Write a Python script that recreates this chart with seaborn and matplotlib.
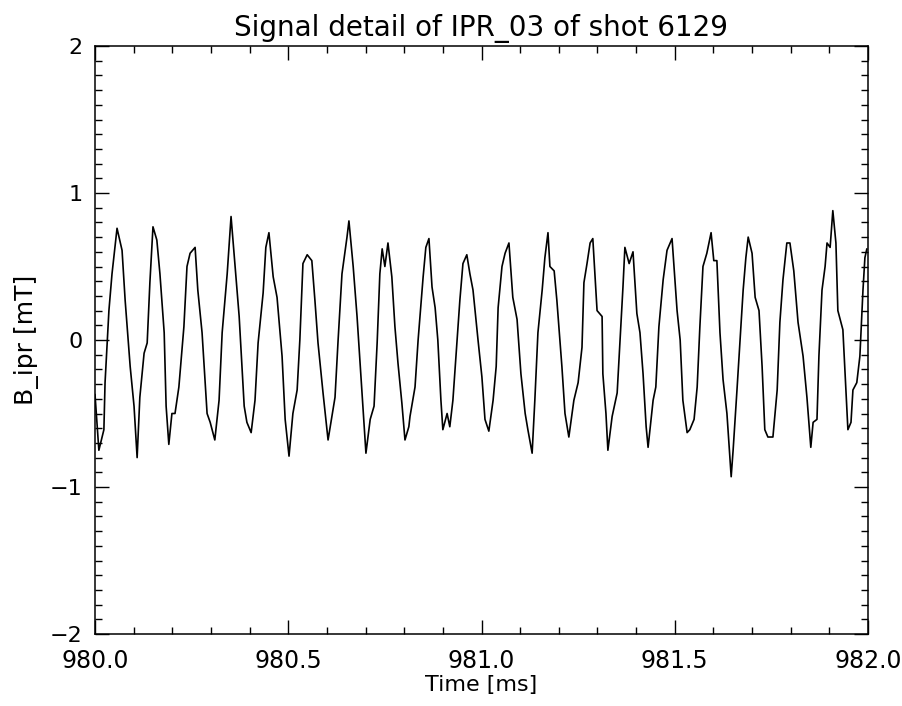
import numpy as np
import pandas as pd
import matplotlib
matplotlib.use("Agg")
import matplotlib.pyplot as plt
from matplotlib.ticker import MultipleLocator, FormatStrFormatter, FuncFormatter
import seaborn as sns

# ---- data (time offset from 980 ms, signal in mT) ----
t0 = 980.0
time_offset = [
    0.000, 0.010, 0.023, 0.026, 0.036, 0.044, 0.057, 0.070, 0.078, 0.091,
    0.101, 0.109, 0.116, 0.127, 0.135, 0.142, 0.150, 0.160, 0.168, 0.179,
    0.184, 0.191, 0.199, 0.207, 0.217, 0.230, 0.238, 0.246, 0.259, 0.266,
    0.277, 0.290, 0.298, 0.310, 0.321, 0.329, 0.342, 0.352, 0.362, 0.373,
    0.386, 0.393, 0.404, 0.414, 0.422, 0.435, 0.442, 0.450, 0.461, 0.471,
    0.484, 0.492, 0.502, 0.512, 0.523, 0.530, 0.538, 0.549, 0.561, 0.569,
    0.577, 0.590, 0.603, 0.613, 0.621, 0.629, 0.639, 0.652, 0.657, 0.668,
    0.678, 0.691, 0.701, 0.712, 0.722, 0.730, 0.737, 0.743, 0.750, 0.758,
    0.768, 0.776, 0.784, 0.794, 0.802, 0.812, 0.815, 0.828, 0.836, 0.849,
    0.856, 0.864, 0.872, 0.880, 0.887, 0.895, 0.900, 0.911, 0.918, 0.926,
    0.937, 0.944, 0.952, 0.962, 0.970, 0.978, 0.991, 1.001, 1.009, 1.019,
    1.030, 1.038, 1.043, 1.053, 1.061, 1.071, 1.081, 1.092, 1.102, 1.113,
    1.120, 1.131, 1.138, 1.146, 1.157, 1.164, 1.172, 1.177, 1.188, 1.195,
    1.208, 1.216, 1.226, 1.239, 1.250, 1.260, 1.265, 1.273, 1.281, 1.288,
    1.299, 1.312, 1.314, 1.322, 1.327, 1.338, 1.351, 1.358, 1.366, 1.371,
    1.382, 1.392, 1.402, 1.410, 1.418, 1.426, 1.431, 1.444, 1.451, 1.459,
    1.470, 1.480, 1.493, 1.506, 1.514, 1.521, 1.532, 1.539, 1.550, 1.558,
    1.565, 1.573, 1.583, 1.594, 1.601, 1.609, 1.617, 1.625, 1.635, 1.646,
    1.651, 1.661, 1.669, 1.677, 1.684, 1.690, 1.700, 1.708, 1.718, 1.726,
    1.733, 1.741, 1.754, 1.765, 1.772, 1.780, 1.790, 1.798, 1.808, 1.819,
    1.832, 1.842, 1.852, 1.858, 1.868, 1.873, 1.881, 1.889, 1.894, 1.902,
    1.909, 1.917, 1.922, 1.935, 1.943, 1.948, 1.956, 1.961, 1.971, 1.979,
    1.987, 1.992, 1.997,
]
b_ipr = [
    -0.37, -0.75, -0.61, -0.29, 0.20, 0.45, 0.76, 0.61, 0.27, -0.18,
    -0.45, -0.80, -0.39, -0.09, -0.02, 0.39, 0.77, 0.68, 0.45, 0.05,
    -0.45, -0.71, -0.50, -0.50, -0.32, 0.09, 0.50, 0.59, 0.63, 0.34,
    0.05, -0.50, -0.56, -0.68, -0.41, 0.05, 0.45, 0.84, 0.52, 0.16,
    -0.45, -0.56, -0.63, -0.41, -0.02, 0.32, 0.63, 0.73, 0.43, 0.29,
    -0.11, -0.54, -0.79, -0.50, -0.34, 0.00, 0.52, 0.58, 0.54, 0.27,
    -0.02, -0.36, -0.68, -0.52, -0.39, 0.00, 0.45, 0.70, 0.81, 0.50,
    0.16, -0.36, -0.77, -0.54, -0.45, -0.02, 0.45, 0.62, 0.50, 0.66,
    0.43, 0.09, -0.16, -0.43, -0.68, -0.59, -0.52, -0.32, 0.00, 0.43,
    0.63, 0.69, 0.36, 0.22, 0.00, -0.41, -0.61, -0.50, -0.59, -0.41,
    0.00, 0.27, 0.52, 0.58, 0.45, 0.34, 0.00, -0.25, -0.54, -0.62,
    -0.41, -0.18, 0.22, 0.50, 0.59, 0.66, 0.29, 0.14, -0.23, -0.50,
    -0.61, -0.77, -0.41, 0.05, 0.34, 0.56, 0.73, 0.50, 0.47, 0.27,
    -0.18, -0.50, -0.66, -0.41, -0.29, -0.05, 0.39, 0.52, 0.66, 0.69,
    0.20, 0.16, -0.23, -0.50, -0.75, -0.52, -0.36, -0.02, 0.36, 0.63,
    0.52, 0.60, 0.18, 0.05, -0.23, -0.59, -0.73, -0.41, -0.32, 0.09,
    0.41, 0.61, 0.69, 0.20, 0.00, -0.41, -0.63, -0.61, -0.54, -0.32,
    0.09, 0.50, 0.59, 0.73, 0.54, 0.54, 0.05, -0.27, -0.50, -0.93,
    -0.75, -0.34, 0.00, 0.34, 0.56, 0.70, 0.59, 0.29, 0.20, -0.18,
    -0.61, -0.66, -0.66, -0.34, 0.12, 0.41, 0.66, 0.66, 0.47, 0.12,
    -0.11, -0.39, -0.73, -0.56, -0.54, -0.11, 0.34, 0.50, 0.66, 0.63,
    0.88, 0.66, 0.20, 0.07, -0.34, -0.61, -0.56, -0.34, -0.29, -0.11,
    0.34, 0.56, 0.62,
]

title_text = "Signal detail of IPR_03 of shot 6129"
x_label = "Time [ms]"
y_label = "B_ipr [mT]"

df = pd.DataFrame({"time": [t0 + d for d in time_offset], "b": b_ipr})

sns.set_theme(style="white")
plt.rcParams["font.family"] = ["DejaVu Sans"]
plt.rcParams["axes.unicode_minus"] = True

fig = plt.figure(figsize=(9.03, 7.06), dpi=100)
ax = fig.add_axes([95 / 903, 1 - 634 / 706, (868 - 95) / 903, (634 - 46) / 706])

sns.lineplot(data=df, x="time", y="b", ax=ax, color="black", linewidth=1.2,
             sort=False, estimator=None)

ax.set_xlim(980.0, 982.0)
ax.set_ylim(-2, 2)
ax.xaxis.set_major_locator(MultipleLocator(0.5))
ax.xaxis.set_minor_locator(MultipleLocator(0.1))
ax.yaxis.set_major_locator(MultipleLocator(1))
ax.yaxis.set_minor_locator(MultipleLocator(0.1))
ax.xaxis.set_major_formatter(FormatStrFormatter("%.1f"))
ax.yaxis.set_major_formatter(FuncFormatter(
    lambda v, p: ("\u2212%d" % abs(round(v))) if v < -1e-9 else "%d" % round(v)))

for s in ax.spines.values():
    s.set_visible(True)
    s.set_color("black")
    s.set_linewidth(1.1)

ax.tick_params(which="both", direction="in", top=True, right=True,
               bottom=True, left=True, color="black", width=1.0)
ax.tick_params(which="major", length=10, labelsize=16, pad=9, labelcolor="black")
ax.tick_params(axis="x", which="major", labelsize=17, pad=11)
ax.tick_params(which="minor", length=5)

ax.set_title(title_text, fontsize=20, pad=7, color="black")
ax.set_xlabel(x_label, fontsize=16, labelpad=1, color="black")
ax.set_ylabel(y_label, fontsize=18, labelpad=8, color="black")
ax.grid(False)

fig.savefig("out.png", dpi=100, facecolor="white")
